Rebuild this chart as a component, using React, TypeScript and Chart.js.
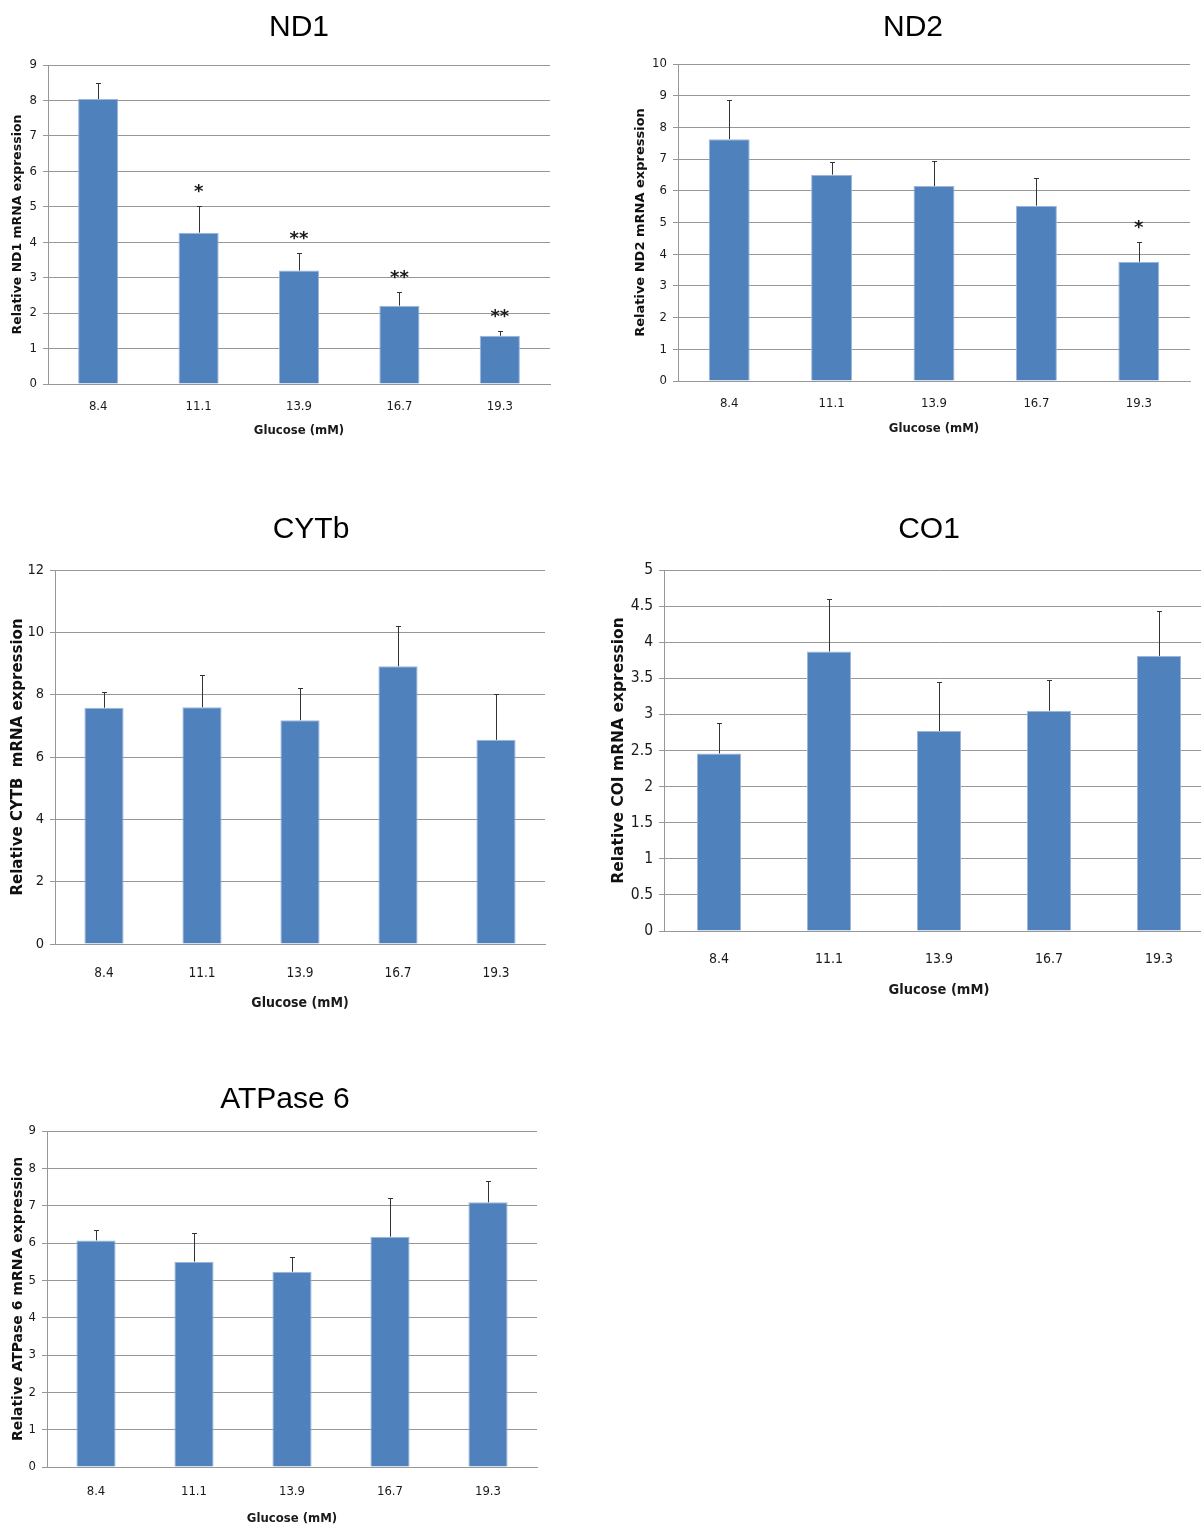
import React, { useEffect, useRef } from "react";
import { Chart, registerables } from "chart.js";

Chart.register(...registerables);

// ---------- data ----------
const categories = ["8.4", "11.1", "13.9", "16.7", "19.3"];

const nd1Values = [8.04, 4.27, 3.2, 2.21, 1.36];
const nd1Errors = [0.45, 0.76, 0.5, 0.38, 0.14];
const nd1Marks = ["", "*", "**", "**", "**"];
const nd1YRange = [0, 9, 1];

const nd2Values = [7.63, 6.51, 6.15, 5.53, 3.76];
const nd2Errors = [1.22, 0.4, 0.8, 0.87, 0.61];
const nd2Marks = ["", "", "", "", "*"];
const nd2YRange = [0, 10, 1];

const cytbValues = [7.58, 7.6, 7.18, 8.91, 6.55];
const cytbErrors = [0.51, 1.04, 1.03, 1.29, 1.48];
const cytbMarks = ["", "", "", "", ""];
const cytbYRange = [0, 12, 2];

const co1Values = [2.46, 3.87, 2.77, 3.05, 3.81];
const co1Errors = [0.42, 0.73, 0.68, 0.42, 0.62];
const co1Marks = ["", "", "", "", ""];
const co1YRange = [0, 5, 0.5];

const atpValues = [6.07, 5.5, 5.23, 6.17, 7.09];
const atpErrors = [0.29, 0.77, 0.39, 1.04, 0.57];
const atpMarks = ["", "", "", "", ""];
const atpYRange = [0, 9, 1];

const xAxisTitle = "Glucose (mM)";

// ---------- styles ----------
const BAR_COLOR = "#4F81BD";
const GRID_COLOR = "#979797";
const NARROW = '"Liberation Sans Narrow", "DejaVu Sans Condensed", "Liberation Sans", Arial, sans-serif';
const WIDE_BOLD = '"DejaVu Sans", Verdana, sans-serif';
const TITLE_FONT = '"Liberation Sans", Arial, sans-serif';

type Spec = {
  title: string;
  yTitle: string;
  values: number[];
  errors: number[];
  marks: string[];
  yRange: number[];
  box: { x: number; y: number; w: number; h: number };
  area: { l: number; t: number; r: number; b: number };
  titlePos: [number, number];
  yTitleX: number;
  xTickY: number;
  xTitleY: number;
  yTickSize: number;
  xTickSize: number;
  xTitleSize: number;
  yTitleSize: number;
};

const specs: Spec[] = [
  {
    title: "ND1", yTitle: "Relative ND1 mRNA expression",
    values: nd1Values, errors: nd1Errors, marks: nd1Marks, yRange: nd1YRange,
    box: { x: 0, y: 0, w: 600, h: 450 }, area: { l: 48, t: 65, r: 550, b: 384 },
    titlePos: [299, 28], yTitleX: 18, xTickY: 407, xTitleY: 431,
    yTickSize: 13, xTickSize: 13, xTitleSize: 13, yTitleSize: 12.5,
  },
  {
    title: "ND2", yTitle: "Relative ND2 mRNA expression",
    values: nd2Values, errors: nd2Errors, marks: nd2Marks, yRange: nd2YRange,
    box: { x: 600, y: 0, w: 601, h: 450 }, area: { l: 678, t: 64, r: 1190, b: 381 },
    titlePos: [913, 28], yTitleX: 641, xTickY: 404, xTitleY: 429,
    yTickSize: 13, xTickSize: 13, xTitleSize: 13, yTitleSize: 13,
  },
  {
    title: "CYTb", yTitle: "Relative CYTB  mRNA expression",
    values: cytbValues, errors: cytbErrors, marks: cytbMarks, yRange: cytbYRange,
    box: { x: 0, y: 470, w: 600, h: 560 }, area: { l: 55, t: 570, r: 545, b: 944 },
    titlePos: [311, 530], yTitleX: 18, xTickY: 973, xTitleY: 1003,
    yTickSize: 14.5, xTickSize: 13.5, xTitleSize: 14, yTitleSize: 15,
  },
  {
    title: "CO1", yTitle: "Relative COI mRNA expression",
    values: co1Values, errors: co1Errors, marks: co1Marks, yRange: co1YRange,
    box: { x: 600, y: 470, w: 614, h: 560 }, area: { l: 664, t: 570, r: 1214, b: 931 },
    titlePos: [929, 530], yTitleX: 619, xTickY: 959, xTitleY: 990,
    yTickSize: 15.5, xTickSize: 14, xTitleSize: 14.5, yTitleSize: 15.5,
  },
  {
    title: "ATPase 6", yTitle: "Relative ATPase 6 mRNA expression",
    values: atpValues, errors: atpErrors, marks: atpMarks, yRange: atpYRange,
    box: { x: 0, y: 1060, w: 600, h: 469 }, area: { l: 47, t: 1131, r: 537, b: 1467 },
    titlePos: [285, 1100], yTitleX: 18, xTickY: 1492, xTitleY: 1519,
    yTickSize: 13, xTickSize: 13, xTitleSize: 13, yTitleSize: 14,
  },
];

const overlayPlugin = {
  id: "overlay",
  afterDatasetsDraw(chart: any, _args: any, opts: any) {
    const ctx = chart.ctx as CanvasRenderingContext2D;
    const meta = chart.getDatasetMeta(0);
    const ys = chart.scales.y;
    ctx.save();
    ctx.strokeStyle = "#333333";
    ctx.lineWidth = 1;
    meta.data.forEach((bar: any, i: number) => {
      const v = opts.values[i];
      const e = opts.errors[i];
      const x = Math.round(bar.x) + 0.5;
      const yTop = Math.round(ys.getPixelForValue(v + e)) + 0.5;
      const yBase = ys.getPixelForValue(v);
      ctx.beginPath();
      ctx.moveTo(x, yBase);
      ctx.lineTo(x, yTop);
      ctx.moveTo(x - 2.5, yTop);
      ctx.lineTo(x + 2.5, yTop);
      ctx.stroke();
      const m = opts.marks[i];
      if (m) {
        ctx.font = `bold 18px ${WIDE_BOLD}`;
        ctx.textAlign = "center";
        ctx.textBaseline = "alphabetic";
        ctx.fillStyle = "#1a1a1a";
        ctx.fillText(m, bar.x, yTop - 10);
      }
    });
    ctx.font = `30px ${TITLE_FONT}`;
    ctx.textAlign = "center";
    ctx.textBaseline = "middle";
    ctx.fillStyle = "#000";
    ctx.fillText(opts.title, opts.titleX, opts.titleY);
    ctx.restore();
  },
};

function MiniChart({ spec }: { spec: Spec }) {
  const ref = useRef<HTMLCanvasElement | null>(null);
  useEffect(() => {
    if (!ref.current) return;
    const s = spec;
    const yTitleLH = s.yTitleSize * 1.2;
    const xTitleLH = s.xTitleSize * 1.2;
    const chart = new Chart(ref.current, {
      type: "bar",
      data: {
        labels: categories,
        datasets: [
          {
            data: s.values,
            backgroundColor: BAR_COLOR,
            borderColor: "#9db7da",
            borderWidth: 1,
            barPercentage: 0.4,
            categoryPercentage: 1,
          },
        ],
      },
      plugins: [overlayPlugin as any],
      options: {
        responsive: false,
        animation: false,
        devicePixelRatio: 1,
        layout: {
          padding: {
            left: 0,
            top: s.area.t - s.box.y,
            right: s.box.x + s.box.w - s.area.r,
            bottom: 0,
          },
        },
        plugins: {
          legend: { display: false },
          tooltip: { enabled: false },
          title: { display: false },
          overlay: {
            values: s.values,
            errors: s.errors,
            marks: s.marks,
            title: s.title,
            titleX: s.titlePos[0] - s.box.x,
            titleY: s.titlePos[1] - s.box.y,
          },
        } as any,
        scales: {
          x: {
            grid: { display: false, drawTicks: false },
            border: { display: true, color: GRID_COLOR, width: 1 },
            ticks: {
              color: "#1a1a1a",
              font: { family: NARROW, size: s.xTickSize },
              padding: s.xTickY - s.area.b - s.xTickSize * 0.6,
              maxRotation: 0,
            },
            title: {
              display: true,
              text: xAxisTitle,
              color: "#1a1a1a",
              font: { family: NARROW, size: s.xTitleSize, weight: "bold" },
              padding: { top: 0, bottom: s.box.y + s.box.h - s.xTitleY - xTitleLH / 2 },
            },
            afterFit: (scale: any) => {
              scale.height = s.box.y + s.box.h - s.area.b;
            },
          },
          y: {
            min: s.yRange[0],
            max: s.yRange[1],
            grid: { color: GRID_COLOR, lineWidth: 1, drawTicks: true, tickLength: 5 },
            border: { display: true, color: GRID_COLOR, width: 1 },
            ticks: {
              stepSize: s.yRange[2],
              color: "#1a1a1a",
              font: { family: NARROW, size: s.yTickSize },
              padding: 6,
              callback: (v: any) => String(Number(v)),
            },
            title: {
              display: true,
              text: s.yTitle,
              color: "#111",
              font: { family: WIDE_BOLD, size: s.yTitleSize, weight: "bold" },
              padding: { top: s.yTitleX - s.box.x - yTitleLH / 2, bottom: 0 },
            },
            afterFit: (scale: any) => {
              scale.width = s.area.l - s.box.x;
            },
          },
        },
      } as any,
    });
    return () => chart.destroy();
  }, [spec]);
  return (
    <canvas
      ref={ref}
      width={spec.box.w}
      height={spec.box.h}
      style={{ position: "absolute", left: spec.box.x, top: spec.box.y, width: spec.box.w, height: spec.box.h }}
    />
  );
}

export default function App() {
  return (
    <div
      style={{
        position: "absolute",
        left: 0,
        top: 0,
        width: 1201,
        height: 1529,
        overflow: "hidden",
        background: "#fff",
      }}
    >
      {specs.map((s) => (
        <MiniChart key={s.title} spec={s} />
      ))}
    </div>
  );
}
